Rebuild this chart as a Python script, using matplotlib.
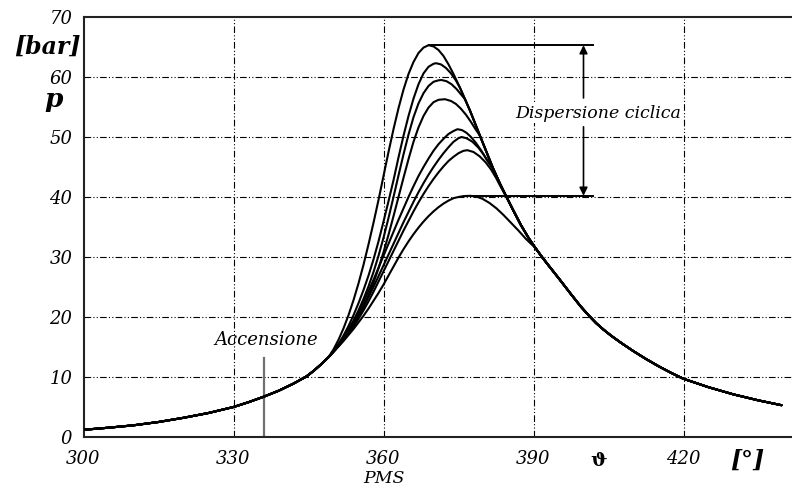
import matplotlib
matplotlib.use("Agg")
import matplotlib.pyplot as plt

# ---- data: crank angle [deg] and pressure [bar] ----
compression_theta = [300, 305, 310, 315, 320, 325, 330, 333, 336, 339, 342, 344.6, 346, 347.5]
compression_p = [1.2, 1.55, 1.95, 2.5, 3.2, 4.0, 5.0, 5.8, 6.7, 7.7, 8.9, 10.1, 11.0, 12.1]

expansion_theta = [375.3, 376.3, 377.3, 378.3, 379.3, 380.6, 382, 383.3, 384.6, 386, 387.5,
                   389, 390.3, 391.7, 393, 395, 397.5, 399.5, 401, 402.5, 404, 405.5, 407.5,
                   410, 412.5, 415, 417.5, 420, 425, 430, 435, 439.6]
expansion_p = [58.2, 56.3, 54.4, 52.3, 50.2, 47.5, 44.6, 42.2, 40.0, 37.7, 35.3,
               33.2, 31.6, 30.0, 28.6, 26.5, 23.8, 21.7, 20.3, 19.0, 17.9, 16.9, 15.7,
               14.3, 13.0, 11.8, 10.7, 9.7, 8.3, 7.1, 6.1, 5.3]

# combustion part of each cycle (before it rejoins the expansion line)
cycle1_theta = [349, 350, 351, 352, 353, 354, 355, 356, 357, 358, 359, 360, 361, 362, 363,
                364, 365, 366, 367, 368, 369, 370, 371, 372, 373, 374]
cycle1_p = [13.3, 14.6, 16.2, 18.1, 20.3, 22.8, 25.6, 28.7, 32.1, 35.7, 39.5, 43.5, 47.5,
            51.3, 54.8, 57.9, 60.5, 62.5, 64.0, 64.9, 65.3, 65.1, 64.5, 63.5, 62.1, 60.5]

cycle2_theta = [349, 350, 351, 352, 353, 354, 355, 356, 357, 358, 359, 360, 361, 362, 363,
                364, 365, 366, 367, 368, 369, 370, 370.5, 371.5, 372.5, 373.5, 374.5]
cycle2_p = [13.3, 14.3, 15.5, 16.9, 18.5, 20.3, 22.3, 24.5, 26.9, 29.6, 32.6, 35.9, 39.3,
            42.8, 46.6, 50.2, 53.5, 56.4, 58.8, 60.6, 61.7, 62.2, 62.3, 62.1, 61.5, 60.6, 59.4]

cycle3_theta = [349, 350, 351, 352, 353, 354, 355, 356, 357, 358, 359, 360, 361, 362, 363,
                364, 365, 366, 367, 368, 369, 370, 371, 371.6, 372.6, 373.6, 374.6, 375.5]
cycle3_p = [13.3, 14.3, 15.4, 16.6, 17.9, 19.4, 21.1, 23.0, 25.1, 27.5, 30.2, 33.2, 36.5,
            40.0, 43.6, 47.1, 50.4, 53.3, 55.6, 57.3, 58.5, 59.2, 59.45, 59.5, 59.3, 58.8,
            58.0, 57.1]

cycle4_theta = [349, 350, 351, 352, 353, 354, 355, 356, 357, 358, 359, 360, 361, 362, 363,
                364, 365, 366, 367, 368, 369, 370, 371, 372.3, 373.5, 374.5, 375.5, 376.5,
                377.5, 378.4]
cycle4_p = [13.3, 14.2, 15.2, 16.3, 17.5, 18.8, 20.2, 21.8, 23.6, 25.7, 28.1, 30.8, 33.7,
            36.8, 40.0, 43.2, 46.3, 49.2, 51.6, 53.5, 54.9, 55.8, 56.2, 56.3, 56.0, 55.5,
            54.7, 53.7, 52.5, 51.3]

cycle5_theta = [349, 350, 351, 352, 353, 354, 355, 356, 357, 358, 359, 360, 361, 362, 363,
                364, 365, 366, 367, 368, 369, 370, 371, 372, 373, 374, 374.8, 375.7, 376.6,
                377.5, 378.5, 379.5, 380.6]
cycle5_p = [13.3, 14.3, 15.4, 16.6, 17.9, 19.3, 20.8, 22.5, 24.3, 26.2, 28.2, 30.2, 32.2,
            34.2, 36.2, 38.1, 40.0, 41.8, 43.5, 45.0, 46.4, 47.7, 48.8, 49.7, 50.5, 51.0,
            51.3, 51.15, 50.7, 50.0, 49.0, 47.8, 46.3]

cycle6_theta = [349, 350, 351, 352, 353, 354, 355, 356, 357, 358, 359, 360, 361, 362, 363,
                364, 365, 366, 367, 368, 369, 370, 371, 372, 373, 374, 375, 375.6, 376.6,
                377.8, 379, 380, 381]
cycle6_p = [13.3, 14.2, 15.2, 16.3, 17.5, 18.8, 20.2, 21.7, 23.3, 25.0, 26.8, 28.6, 30.4,
            32.2, 34.0, 35.8, 37.5, 39.2, 40.8, 42.3, 43.7, 45.0, 46.2, 47.3, 48.3, 49.2,
            49.8, 50.0, 49.8, 49.2, 48.2, 47.1, 45.8]

cycle7_theta = [349, 350, 351, 352, 353, 354, 355, 356, 357, 358, 359, 360, 361, 362, 363,
                364, 365, 366, 367, 368, 369, 370, 371, 372, 373, 374, 375, 376, 376.8,
                378, 379.2, 380.4, 381.5, 382.5, 383.5]
cycle7_p = [13.3, 14.2, 15.1, 16.1, 17.2, 18.4, 19.7, 21.1, 22.6, 24.2, 25.9, 27.6, 29.3,
            31.0, 32.7, 34.4, 36.0, 37.6, 39.1, 40.5, 41.8, 43.0, 44.1, 45.1, 46.0, 46.7,
            47.3, 47.7, 47.8, 47.5, 46.8, 45.8, 44.6, 43.2, 41.6]

cycle8_theta = [349, 350, 351, 352, 353, 354, 355, 356, 357, 358, 359, 360, 361, 362, 363,
                364, 365, 366, 367, 368, 369, 370, 371, 372, 373, 374, 375, 376, 377.3,
                378.5, 379.8, 381.2, 382.6, 384, 385.5, 387, 388.5, 389.5]
cycle8_p = [13.3, 14.2, 15.1, 16.0, 17.0, 18.0, 19.1, 20.2, 21.4, 22.7, 24.0, 25.4, 26.9,
            28.4, 29.9, 31.3, 32.6, 33.8, 34.9, 35.9, 36.8, 37.6, 38.3, 38.9, 39.4, 39.8,
            40.0, 40.15, 40.2, 40.1, 39.7, 39.0, 38.1, 37.0, 35.7, 34.4, 33.0, 32.2]

cycles = [(cycle1_theta, cycle1_p), (cycle2_theta, cycle2_p), (cycle3_theta, cycle3_p),
          (cycle4_theta, cycle4_p), (cycle5_theta, cycle5_p), (cycle6_theta, cycle6_p),
          (cycle7_theta, cycle7_p), (cycle8_theta, cycle8_p)]

x_ticks = [300, 330, 360, 390, 420]
y_ticks = [0, 10, 20, 30, 40, 50, 60, 70]
ignition_theta = 336.1
ignition_top = 13.2
p_max, p_min = 65.3, 40.2
p_max_theta, p_min_theta = 369, 377.3
arrow_theta = 400
bracket_end = 401.9

SERIF = "DejaVu Serif"

fig = plt.figure(figsize=(7.92, 4.95), dpi=100)
ax = fig.add_axes([83.5 / 792, 58 / 495, 1 - 83.5 / 792, (437 - 17) / 495])
ax.set_xlim(300, 441.7)
ax.set_ylim(0, 70)

grid_kw = dict(color="black", lw=0.8, dashes=(6, 2, 1, 2, 1, 2), zorder=1)
for xv in x_ticks[1:]:
    ax.axvline(xv, **grid_kw)
for yv in y_ticks[1:-1]:
    ax.axhline(yv, **grid_kw)


def full_cycle(th, p):
    """Compression line, the cycle's own combustion part, then the expansion line."""
    t_all = list(compression_theta) + list(th)
    p_all = list(compression_p) + list(p)
    for t, v in zip(expansion_theta, expansion_p):
        if t > th[-1] + 0.4:
            t_all.append(t)
            p_all.append(v)
    return t_all, p_all


for th, p in cycles:
    t_all, p_all = full_cycle(th, p)
    ax.plot(t_all, p_all, color="black", lw=1.5, solid_joinstyle="round",
            solid_capstyle="round", zorder=3)

# ignition marker
ax.plot([ignition_theta, ignition_theta], [0, ignition_top], color="#707070", lw=1.6, zorder=2)
ax.text(336.5, 16.2, "Accensione", ha="center", va="center",
        family=SERIF, style="italic", fontsize=13)

# cyclic dispersion bracket
ax.plot([p_max_theta, bracket_end], [p_max, p_max], color="black", lw=1.4, zorder=3)
ax.plot([p_min_theta, bracket_end], [p_min, p_min], color="black", lw=1.4, zorder=3)
ax.annotate("", xy=(arrow_theta, p_max), xytext=(arrow_theta, 56.5),
            arrowprops=dict(arrowstyle="-|>", color="black", lw=1.2, mutation_scale=12,
                            shrinkA=0, shrinkB=0))
ax.annotate("", xy=(arrow_theta, p_min), xytext=(arrow_theta, 51.7),
            arrowprops=dict(arrowstyle="-|>", color="black", lw=1.2, mutation_scale=12,
                            shrinkA=0, shrinkB=0))
ax.text(403.0, 54.0, "Dispersione ciclica", ha="center", va="center",
        family=SERIF, style="italic", fontsize=12.5,
        bbox=dict(facecolor="white", edgecolor="none", pad=1.0), zorder=4)

# axes frame
for side in ("left", "bottom", "top"):
    ax.spines[side].set_linewidth(1.5)
    ax.spines[side].set_color("#222222")
ax.spines["right"].set_visible(False)

ax.set_xticks(x_ticks)
ax.set_yticks(y_ticks)
ax.tick_params(length=0, pad=9)
ax.set_xticklabels([str(v) for v in x_ticks], family=SERIF, style="italic", fontsize=13)
ax.set_yticklabels([str(v) for v in y_ticks], family=SERIF, style="italic", fontsize=13)
ax.tick_params(axis="y", pad=8)

# axis annotations
ax.text(360, -6.9, "PMS", ha="center", va="center", family=SERIF, style="italic",
        fontsize=12.5, clip_on=False)
ax.text(403.0, -4.0, "\u03d1", ha="center", va="center", family=SERIF,
        fontweight="bold", fontsize=14, clip_on=False)
ax.text(432.7, -4.0, "[°]", ha="center", va="center", family=SERIF, style="italic",
        fontweight="bold", fontsize=17, clip_on=False)
fig.text(47 / 792, 1 - 47 / 495, "[bar]", ha="center", va="center", family=SERIF,
         style="italic", fontweight="bold", fontsize=17)
fig.text(54 / 792, 1 - 100 / 495, "p", ha="center", va="center", family=SERIF,
         style="italic", fontweight="bold", fontsize=19)

fig.savefig("out.png", dpi=100)
